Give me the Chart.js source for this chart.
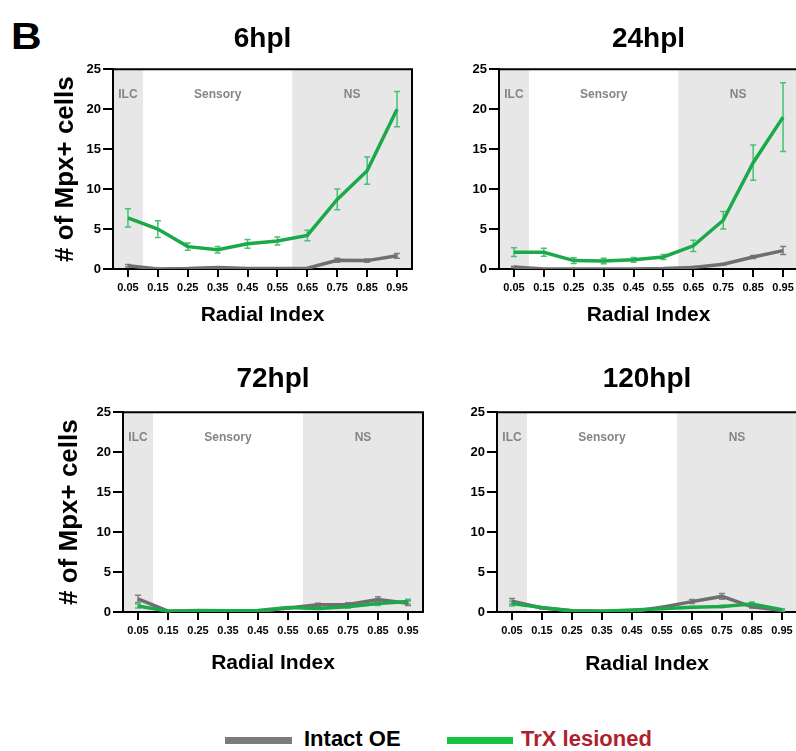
<!DOCTYPE html>
<html>
<head>
<meta charset="utf-8">
<script src="https://cdn.jsdelivr.net/npm/chart.js@4.4.1/dist/chart.umd.min.js"></script>
<style>
  body { margin: 0; width: 796px; height: 751px; overflow: hidden; background: #fff; position: relative;
         font-family: Arial, 'Liberation Sans', sans-serif; }
  canvas { position: absolute; }
  .txt { position: absolute; font-weight: bold; line-height: 1; white-space: nowrap; }
  .swatch { position: absolute; height: 7px; }
</style>
</head>
<body>
<div class="txt" style="left:11px; top:19px; font-size:36px; transform:scaleX(1.18); transform-origin:left top;">B</div>

<canvas id="c6" width="420" height="340" style="left:0; top:0;"></canvas>
<canvas id="c24" width="390" height="340" style="left:420px; top:0;"></canvas>
<canvas id="c72" width="430" height="340" style="left:0; top:350px;"></canvas>
<canvas id="c120" width="390" height="340" style="left:420px; top:350px;"></canvas>

<div class="swatch" style="left:225px; top:737px; width:67px; background:#7b7b7b;"></div>
<div class="txt" style="left:304px; top:728px; font-size:22px; color:#000;">Intact OE</div>
<div class="swatch" style="left:447px; top:737px; width:66px; background:#16c43f;"></div>
<div class="txt" style="left:521px; top:728px; font-size:22px; color:#b01f2d;">TrX lesioned</div>

<script>
// radial index bins
const xTicks = [0.05, 0.15, 0.25, 0.35, 0.45, 0.55, 0.65, 0.75, 0.85, 0.95];
const yTicks = [0, 5, 10, 15, 20, 25];

// zones along the radial index
const zoneNames = ['ILC', 'Sensory', 'NS'];
const zoneCenters = [0.05, 0.35, 0.8];
const shadedBands = [[0, 0.1], [0.6, 1.0]];

const titles = ['6hpl', '24hpl', '72hpl', '120hpl'];

// mean # of Mpx+ cells and error
const intact6 = [0.4, 0.0, 0.05, 0.2, 0.05, 0.05, 0.1, 1.1, 1.05, 1.65];
const intact6Err = [0.15, 0, 0, 0, 0, 0, 0, 0.25, 0.2, 0.3];
const trx6 = [6.4, 5.0, 2.8, 2.4, 3.15, 3.5, 4.2, 8.7, 12.3, 20.0];
const trx6Err = [1.15, 1.05, 0.45, 0.4, 0.55, 0.5, 0.65, 1.3, 1.7, 2.2];

const intact24 = [0.25, 0, 0, 0, 0, 0.05, 0.2, 0.6, 1.5, 2.3];
const intact24Err = [0.1, 0, 0, 0, 0, 0, 0.1, 0.1, 0.2, 0.5];
const trx24 = [2.1, 2.1, 1.05, 1.0, 1.15, 1.5, 2.9, 6.1, 13.3, 19.0];
const trx24Err = [0.55, 0.5, 0.35, 0.35, 0.3, 0.3, 0.7, 1.1, 2.2, 4.3];

const intact72 = [1.65, 0.1, 0.2, 0.15, 0.05, 0.5, 0.9, 0.95, 1.55, 1.1];
const intact72Err = [0.45, 0.05, 0, 0, 0, 0.1, 0.2, 0.2, 0.35, 0.3];
const trx72 = [0.75, 0.1, 0.15, 0.15, 0.2, 0.55, 0.45, 0.65, 1.05, 1.3];
const trx72Err = [0.25, 0.05, 0, 0, 0, 0.1, 0.1, 0.15, 0.25, 0.3];

const intact120 = [1.35, 0.5, 0.15, 0.1, 0.05, 0.6, 1.3, 1.95, 0.65, 0.2];
const intact120Err = [0.35, 0.1, 0, 0, 0, 0.1, 0.25, 0.35, 0.15, 0.1];
const trx120 = [1.05, 0.55, 0.15, 0.1, 0.25, 0.4, 0.6, 0.7, 1.0, 0.3];
const trx120Err = [0.3, 0.1, 0, 0, 0, 0.1, 0.1, 0.15, 0.25, 0.1];

const FONT = "Arial, 'Liberation Sans', sans-serif";
const GRAY = '#6f6f6f';
const GREEN = '#1ba94a';

// shaded bands, zone names, box edges
const zones = {
  id: 'zones',
  beforeDraw(chart) {
    const { ctx, chartArea: a, scales: { x } } = chart;
    ctx.save();
    ctx.fillStyle = '#e7e7e7';
    shadedBands.forEach(([from, to]) => {
      const l = x.getPixelForValue(from), r = x.getPixelForValue(to);
      ctx.fillRect(l, a.top, r - l, a.bottom - a.top);
    });
    ctx.restore();
  },
  beforeDatasetsDraw(chart) {
    const { ctx, chartArea: a, scales: { x } } = chart;
    ctx.save();
    ctx.fillStyle = '#858585';
    ctx.font = 'bold 12px ' + FONT;
    ctx.textAlign = 'center';
    ctx.textBaseline = 'middle';
    zoneNames.forEach((n, i) => ctx.fillText(n, x.getPixelForValue(zoneCenters[i]), a.top + 25));
    ctx.restore();
  },
  afterDraw(chart) {
    const { ctx, chartArea: a } = chart;
    ctx.save();
    ctx.strokeStyle = '#000';
    ctx.lineWidth = 2;
    ctx.beginPath();
    ctx.moveTo(a.left, a.top);
    ctx.lineTo(a.right, a.top);
    ctx.lineTo(a.right, a.bottom);
    ctx.stroke();
    ctx.restore();
  }
};

// vertical error bars with caps, drawn under the lines
const errorBars = {
  id: 'errorBars',
  beforeDatasetsDraw(chart) {
    const { ctx, scales: { x, y } } = chart;
    chart.data.datasets.forEach(ds => {
      ctx.save();
      ctx.strokeStyle = ds.errorColor;
      ctx.lineWidth = 1.5;
      ds.data.forEach((p, j) => {
        const e = ds.errors[j];
        if (!e) return;
        const px = x.getPixelForValue(p.x);
        const top = y.getPixelForValue(p.y + e);
        const bot = y.getPixelForValue(Math.max(p.y - e, 0));
        ctx.beginPath();
        ctx.moveTo(px, top); ctx.lineTo(px, bot);
        ctx.moveTo(px - 3, top); ctx.lineTo(px + 3, top);
        ctx.moveTo(px - 3, bot); ctx.lineTo(px + 3, bot);
        ctx.stroke();
      });
      ctx.restore();
    });
  }
};

function points(vals) {
  return xTicks.map((x, i) => ({ x: x, y: vals[i] }));
}

function makeChart(id, p) {
  new Chart(document.getElementById(id), {
    type: 'line',
    data: {
      datasets: [
        { label: 'Intact OE', data: points(p.intact), errors: p.intactErr, errorColor: '#808080',
          borderColor: GRAY, borderWidth: 3.5, pointRadius: 0, tension: 0, order: 2 },
        { label: 'TrX lesioned', data: points(p.trx), errors: p.trxErr, errorColor: '#45c274',
          borderColor: GREEN, borderWidth: 3.5, pointRadius: 0, tension: 0, order: 1 }
      ]
    },
    options: {
      responsive: false,
      animation: false,
      layout: { padding: { left: 0, right: p.padRight, top: 0, bottom: 0 } },
      plugins: {
        legend: { display: false },
        tooltip: { enabled: false },
        title: {
          display: true, text: p.title, fullSize: false, color: '#000',
          font: { family: FONT, size: 28, weight: 'bold' },
          padding: p.titlePad
        }
      },
      scales: {
        x: {
          type: 'linear', min: 0, max: 1,
          afterBuildTicks: s => { s.ticks = xTicks.map(v => ({ value: v })); },
          afterFit: s => { s.height = p.xHeight; },
          ticks: { autoSkip: false, maxRotation: 0, padding: 4, color: '#000',
                   font: { family: FONT, size: 11, weight: 'bold' },
                   callback: v => v.toFixed(2) },
          grid: { drawOnChartArea: false, tickLength: 8, color: '#000', lineWidth: 2 },
          border: { color: '#000', width: 2 },
          title: { display: true, text: 'Radial Index', color: '#000',
                   font: { family: FONT, size: 21, weight: 'bold' },
                   padding: { top: 0, bottom: p.xTitlePad } }
        },
        y: {
          min: 0, max: 25,
          afterBuildTicks: s => { s.ticks = yTicks.map(v => ({ value: v })); },
          afterFit: s => { s.width = p.yWidth; },
          ticks: { padding: 2, color: '#000', font: { family: FONT, size: 13, weight: 'bold' } },
          grid: { drawOnChartArea: false, tickLength: 10, color: '#000', lineWidth: 2 },
          border: { color: '#000', width: 2 },
          title: { display: p.yTitle, text: '# of Mpx+ cells', color: '#000',
                   font: { family: FONT, size: 26, weight: 'bold' },
                   padding: { top: p.yTitlePad, bottom: 0 } }
        }
      }
    },
    plugins: [zones, errorBars]
  });
}

makeChart('c6', { title: titles[0], intact: intact6, intactErr: intact6Err, trx: trx6, trxErr: trx6Err,
  yTitle: true, yWidth: 113, xHeight: 71, padRight: 8, titlePad: { top: 22, bottom: 13.6 }, yTitlePad: 50, xTitlePad: 12 });
makeChart('c24', { title: titles[1], intact: intact24, intactErr: intact24Err, trx: trx24, trxErr: trx24Err,
  yTitle: false, yWidth: 79, xHeight: 71, padRight: 12, titlePad: { top: 22, bottom: 13.6 }, yTitlePad: 0, xTitlePad: 12 });
makeChart('c72', { title: titles[2], intact: intact72, intactErr: intact72Err, trx: trx72, trxErr: trx72Err,
  yTitle: true, yWidth: 123, xHeight: 78, padRight: 7, titlePad: { top: 12.4, bottom: 16.2 }, yTitlePad: 54, xTitlePad: 14 });
makeChart('c120', { title: titles[3], intact: intact120, intactErr: intact120Err, trx: trx120, trxErr: trx120Err,
  yTitle: false, yWidth: 77, xHeight: 78, padRight: 13, titlePad: { top: 12.4, bottom: 16.2 }, yTitlePad: 0, xTitlePad: 13 });
</script>
</body>
</html>
